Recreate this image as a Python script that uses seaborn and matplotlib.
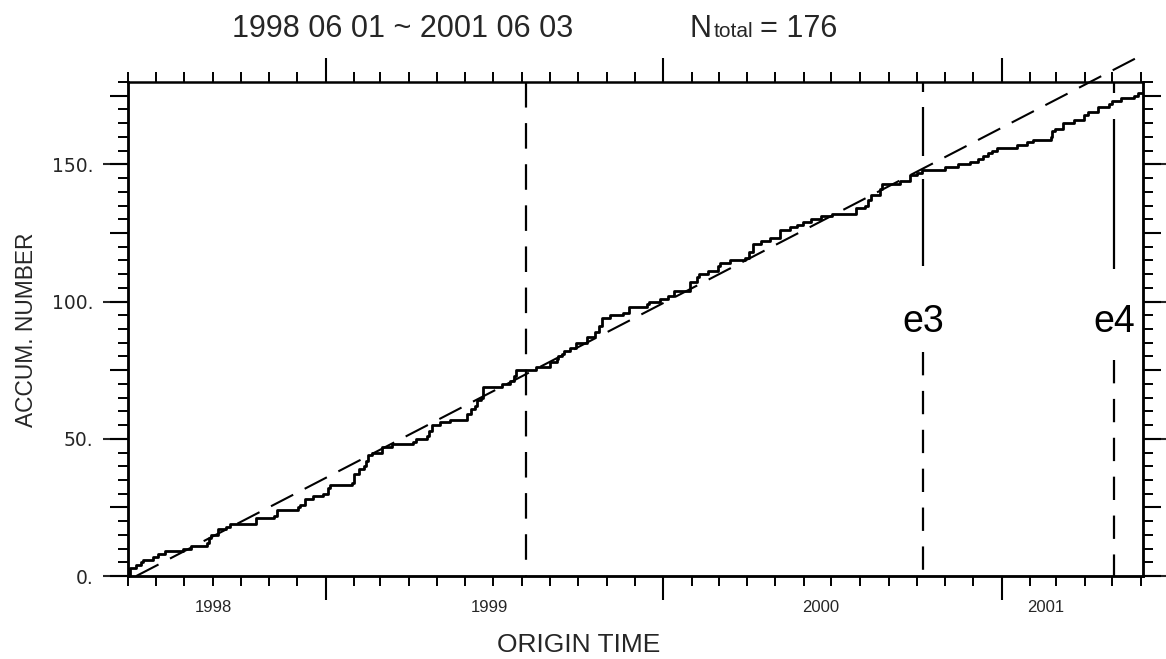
import numpy as np
import pandas as pd
import matplotlib
matplotlib.use("Agg")
import matplotlib.pyplot as plt
import matplotlib.dates as mdates
from matplotlib.ticker import MultipleLocator, NullFormatter, NullLocator
import seaborn as sns

# ---------------- data ----------------
period_start = "1998-06-01"
period_end = "2001-06-03"
n_total = 176

step_dates = [
    "1998-06-01", "1998-06-03", "1998-06-10", "1998-06-15", "1998-06-17", "1998-06-28",
    "1998-07-03", "1998-07-11", "1998-07-30", "1998-08-08", "1998-08-26", "1998-08-28",
    "1998-08-30", "1998-09-06", "1998-09-15", "1998-09-19", "1998-10-17", "1998-11-06",
    "1998-11-09", "1998-12-02", "1998-12-04", "1998-12-10", "1998-12-18", "1998-12-29",
    "1999-01-03", "1999-01-05", "1999-01-29", "1999-01-31", "1999-02-01", "1999-02-06",
    "1999-02-11", "1999-02-14", "1999-02-16", "1999-02-20", "1999-03-03", "1999-03-14",
    "1999-04-05", "1999-04-09", "1999-04-20", "1999-04-23", "1999-04-26", "1999-05-04",
    "1999-05-15", "1999-06-03", "1999-06-07", "1999-06-11", "1999-06-13", "1999-06-18",
    "1999-06-20", "1999-07-11", "1999-07-19", "1999-07-24", "1999-07-26", "1999-08-16",
    "1999-08-31", "1999-09-08", "1999-09-09", "1999-09-13", "1999-09-16", "1999-09-22",
    "1999-09-29", "1999-10-10", "1999-10-19", "1999-10-24", "1999-10-27", "1999-11-04",
    "1999-11-18", "1999-11-25", "1999-12-14", "1999-12-17", "1999-12-28",
    "2000-01-06", "2000-01-13", "2000-01-30", "2000-02-06", "2000-02-09", "2000-02-18",
    "2000-02-29", "2000-03-02", "2000-03-13", "2000-03-29", "2000-04-03", "2000-04-07",
    "2000-04-16", "2000-04-25", "2000-05-06", "2000-05-17", "2000-05-25", "2000-05-31",
    "2000-06-09", "2000-06-20", "2000-07-02", "2000-07-28", "2000-08-06", "2000-08-09",
    "2000-08-13", "2000-08-22", "2000-08-25", "2000-09-13", "2000-09-24", "2000-10-01",
    "2000-10-07", "2000-11-01", "2000-11-15", "2000-11-28", "2000-12-06", "2000-12-12",
    "2000-12-17", "2000-12-22", "2000-12-27",
    "2001-01-18", "2001-01-29", "2001-02-04", "2001-02-23", "2001-02-25", "2001-02-28",
    "2001-03-08", "2001-03-20", "2001-03-31", "2001-04-04", "2001-04-15", "2001-04-27",
    "2001-05-01", "2001-05-10", "2001-05-24", "2001-05-29", "2001-06-03",
]
step_counts = [
    0, 3, 4, 5, 6, 7, 8, 9, 10, 11, 12, 14, 15, 17, 18, 19, 21, 22, 24, 25, 26, 28, 29, 30,
    32, 33, 34, 36, 37, 39, 40, 42, 44, 45, 47, 48, 49, 50, 51, 53, 55, 56, 57, 59, 61, 62,
    64, 65, 69, 70, 71, 73, 75, 76, 78, 79, 80, 81, 82, 83, 85, 87, 89, 91, 94, 95, 96, 98,
    99, 100, 101,
    102, 104, 107, 109, 110, 111, 113, 114, 115, 116, 118, 121, 122, 123, 126, 127, 128,
    129, 130, 131, 132, 134, 135, 137, 139, 141, 143, 144, 146, 147, 148, 149, 150, 151,
    152, 153, 154, 155, 156,
    157, 158, 159, 160, 162, 163, 165, 166, 168, 169, 171, 172, 173, 174, 175, 176, 176,
]

trend_dates = ["1998-06-10", "2001-06-03"]
trend_counts = [0, 190]

mainshock_date = "1999-08-06"
e3_date = "2000-10-08"
e4_date = "2001-05-03"
event_labels = ["e3", "e4"]

y_tick_values = [0, 50, 100, 150]
y_tick_labels = ["0.", "50.", "100.", "150."]
year_label_dates = ["1998-09-01", "1999-06-27", "2000-06-19", "2001-02-18"]
year_labels = ["1998", "1999", "2000", "2001"]

title_period = "1998 06 01 ~ 2001 06 03"
x_label = "ORIGIN TIME"
y_label = "ACCUM. NUMBER"

# ---------------- style ----------------
sns.set_style("white")
plt.rcParams["font.family"] = ["DejaVu Sans"]
REG = ["Liberation Sans", "DejaVu Sans"]

df = pd.DataFrame({"date": pd.to_datetime(step_dates), "count": step_counts})

fig = plt.figure(figsize=(11.66, 6.59), dpi=100)
W, H = 1166, 659
ax = fig.add_axes([128 / W, 1 - 576 / H, 1015 / W, 494 / H])

sns.lineplot(data=df, x="date", y="count", drawstyle="steps-post", color="black",
             linewidth=2.0, estimator=None, ax=ax)

# trend line (extends past the top frame)
ax.plot(pd.to_datetime(trend_dates), trend_counts, color="black", linewidth=1.5,
        linestyle=(0, (12, 6.2)), clip_on=False)

# vertical marker lines
def vseg(date, y0, y1, dashed=True, dash=(11.5, 7)):
    d = pd.to_datetime([date, date])
    ls = (0, dash) if dashed else "-"
    ax.plot(d, [y0, y1], color="black", linewidth=1.6, linestyle=ls, solid_capstyle="butt")

vseg(mainshock_date, 180, 0)
# e3
vseg(e3_date, 180, 176.3, dashed=False)
vseg(e3_date, 171, 153, dashed=False)
vseg(e3_date, 144.5, 112.8, dashed=False)
vseg(e3_date, 81.8, 0, dash=(10.5, 7))
# e4
vseg(e4_date, 180, 176, dashed=False)
vseg(e4_date, 166.4, 111.7, dashed=False)
vseg(e4_date, 78.8, 0, dash=(10.5, 7))

for lab, d in zip(event_labels, [e3_date, e4_date]):
    ax.text(pd.to_datetime(d), 92.5, lab, ha="center", va="center",
            family=REG, fontsize=27, color="black")

ax.set_xlim(pd.to_datetime(period_start), pd.to_datetime(period_end))
ax.set_ylim(0, 180)

# ticks on main axis
ax.xaxis.set_major_locator(mdates.YearLocator())
ax.xaxis.set_minor_locator(mdates.MonthLocator())
ax.xaxis.set_major_formatter(NullFormatter())
ax.xaxis.set_minor_formatter(NullFormatter())
ax.yaxis.set_major_locator(MultipleLocator(25))
ax.yaxis.set_minor_locator(MultipleLocator(5))
ax.yaxis.set_major_formatter(NullFormatter())
ax.tick_params(which="both", direction="out", top=True, right=True, bottom=True, left=True,
               labelbottom=False, labelleft=False, color="black")
ax.tick_params(axis="x", which="major", length=17, width=1.5)
ax.tick_params(axis="x", which="minor", length=7.5, width=1.4)
ax.tick_params(axis="y", which="major", length=13, width=1.5)
ax.tick_params(axis="y", which="minor", length=7.5, width=1.4)
for s in ax.spines.values():
    s.set_linewidth(1.8)
    s.set_color("black")
ax.set_xlabel("")
ax.set_ylabel("")

# long labelled y ticks (left) and matching long ticks (right)
secl = ax.secondary_yaxis("left")
secl.set_yticks(y_tick_values, labels=y_tick_labels)
secl.tick_params(length=18, width=1.5, pad=7, labelsize=13.5, direction="out")
secl.yaxis.set_minor_locator(NullLocator())
secl.spines["left"].set_linewidth(1.8)
secr = ax.secondary_yaxis("right")
secr.set_yticks(y_tick_values)
secr.tick_params(length=18, width=1.5, labelright=False, direction="out")
secr.yaxis.set_minor_locator(NullLocator())
secr.spines["right"].set_linewidth(1.8)

# year labels
secx = ax.secondary_xaxis("bottom")
secx.set_xticks(mdates.date2num(pd.to_datetime(year_label_dates)), labels=year_labels)
secx.tick_params(length=0, pad=17)
secx.xaxis.set_minor_locator(NullLocator())
for t in secx.get_xticklabels():
    t.set_family(REG)
    t.set_fontsize(12)
secx.spines["bottom"].set_linewidth(1.8)

# axis titles
fig.text(27 / W, 1 - 330 / H, y_label, rotation=90, ha="center", va="center",
         family=REG, fontsize=16.4)
fig.text(579 / W, 1 - 645 / H, x_label, ha="center", va="center", family=REG, fontsize=19)

# header
base_y = 1 - 37 / H
fig.text(232 / W, base_y, title_period, ha="left", va="baseline", family=REG, fontsize=22)
fig.canvas.draw()
renderer = fig.canvas.get_renderer()
tN = fig.text(690 / W, base_y, "N", ha="left", va="baseline", family=REG, fontsize=22)
x1 = tN.get_window_extent(renderer).x1
tT = fig.text((x1 + 2) / W, base_y, "total", ha="left", va="baseline", family=REG,
              fontsize=15)
x2 = tT.get_window_extent(renderer).x1
fig.text((x2 + 6) / W, base_y, f"= {n_total}", ha="left", va="baseline", family=REG,
         fontsize=22)

fig.savefig("out.png", dpi=100, facecolor="white")
